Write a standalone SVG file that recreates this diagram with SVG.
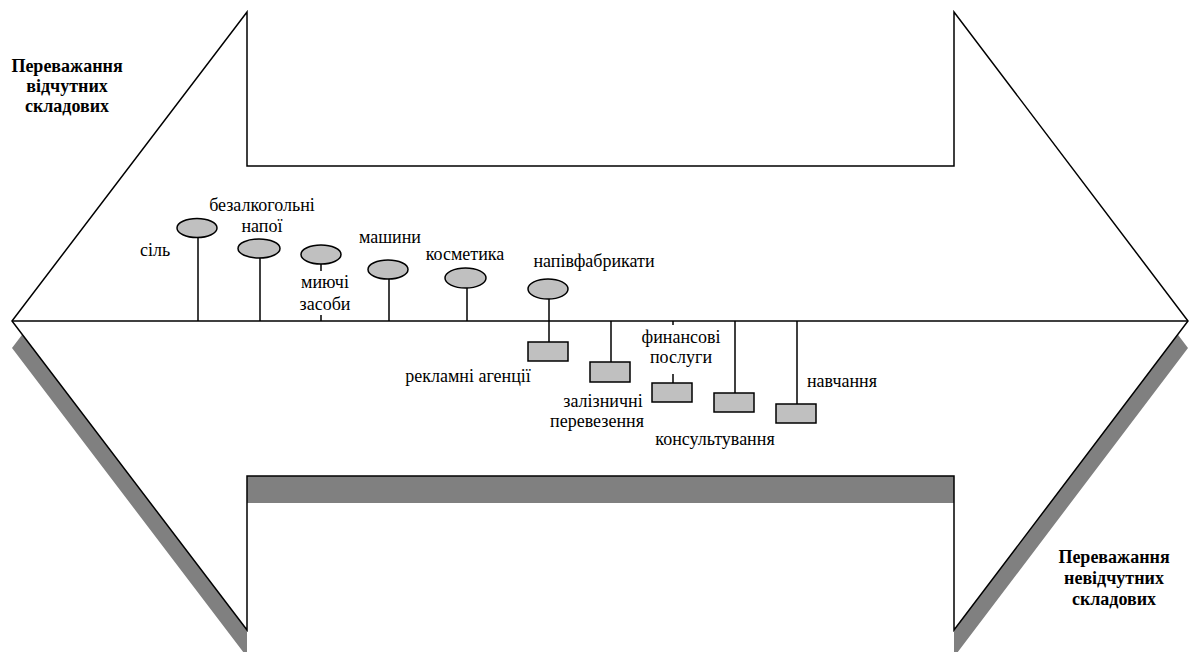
<svg xmlns="http://www.w3.org/2000/svg" width="1192" height="652" viewBox="0 0 1192 652">
  <style>
    .lbl { font-family: "Liberation Serif", "Times New Roman", serif; font-size: 18px; fill: #000; text-anchor: middle; }
    .bold { font-weight: bold; }
    .outline { fill: #fff; stroke: #000; stroke-width: 1.5; stroke-linejoin: miter; }
    .shadow { fill: #808080; stroke: none; }
    .stem { stroke: #000; stroke-width: 1.5; fill: none; }
    .good { fill: #c0c0c0; stroke: #000; stroke-width: 1.5; }
  </style>
  <defs>
    <path id="arrowShape" d="M12,321 L247,12 L247,166 L954,166 L954,12 L1188,321 L954,630 L954,476 L247,476 L247,630 Z"/>
  </defs>
  <rect width="1192" height="652" fill="#fff"/>

  <!-- Double-headed arrow with drop shadow -->
  <g id="arrow">
    <use href="#arrowShape" class="shadow" transform="translate(0,27)"/>
    <use href="#arrowShape" class="outline"/>
  </g>

  <!-- Axis and stems -->
  <g id="connectors">
    <line class="stem" x1="12" y1="321" x2="1188" y2="321"/>
    <line class="stem" x1="198" y1="237" x2="198" y2="321"/>
    <line class="stem" x1="260" y1="258" x2="260" y2="321"/>
    <line class="stem" x1="321" y1="264" x2="321" y2="271"/>
    <line class="stem" x1="321" y1="315" x2="321" y2="321"/>
    <line class="stem" x1="389" y1="279" x2="389" y2="321"/>
    <line class="stem" x1="467" y1="288" x2="467" y2="321"/>
    <line class="stem" x1="549" y1="299" x2="549" y2="342"/>
    <line class="stem" x1="611" y1="321" x2="611" y2="362"/>
    <line class="stem" x1="673" y1="321" x2="673" y2="325"/>
    <line class="stem" x1="673" y1="374" x2="673" y2="383"/>
    <line class="stem" x1="735" y1="321" x2="735" y2="393"/>
    <line class="stem" x1="797" y1="321" x2="797" y2="404"/>
  </g>

  <!-- Side captions -->
  <g id="caption-tangible">
    <text class="lbl bold" x="67" y="72">Переважання</text>
    <text class="lbl bold" x="67" y="92">відчутних</text>
    <text class="lbl bold" x="67" y="112">складових</text>
  </g>
  <g id="caption-intangible">
    <text class="lbl bold" x="1114" y="563">Переважання</text>
    <text class="lbl bold" x="1114" y="584">невідчутних</text>
    <text class="lbl bold" x="1114" y="605">складових</text>
  </g>

  <!-- Goods (ellipses above the axis) -->
  <g id="salt">
    <ellipse class="good" cx="197" cy="228" rx="20" ry="9.5"/>
    <text class="lbl" x="155" y="256">сіль</text>
  </g>
  <g id="soft-drinks">
    <ellipse class="good" cx="259" cy="248.5" rx="21" ry="9.5"/>
    <text class="lbl" x="262" y="211">безалкогольні</text>
    <text class="lbl" x="262" y="232">напої</text>
  </g>
  <g id="detergents">
    <ellipse class="good" cx="321" cy="254.5" rx="20" ry="9.5"/>
    <text class="lbl" x="325" y="288">миючі</text>
    <text class="lbl" x="325" y="310">засоби</text>
  </g>
  <g id="machines">
    <ellipse class="good" cx="388" cy="269.5" rx="20" ry="9.5"/>
    <text class="lbl" x="390" y="243">машини</text>
  </g>
  <g id="cosmetics">
    <ellipse class="good" cx="465.5" cy="278" rx="20.5" ry="10"/>
    <text class="lbl" x="465" y="260">косметика</text>
  </g>
  <g id="semi-finished">
    <ellipse class="good" cx="548" cy="289" rx="20" ry="10"/>
    <text class="lbl" x="594" y="267">напівфабрикати</text>
  </g>

  <!-- Services (rectangles below the axis) -->
  <g id="advertising">
    <rect class="good" x="528" y="342" width="40" height="19"/>
    <text class="lbl" x="468" y="382">рекламні агенції</text>
  </g>
  <g id="railway">
    <rect class="good" x="590" y="362" width="40" height="20"/>
    <text class="lbl" x="603" y="407">залізничні</text>
    <text class="lbl" x="597" y="427">перевезення</text>
  </g>
  <g id="financial">
    <rect class="good" x="652" y="383" width="40" height="19"/>
    <text class="lbl" x="681" y="343">финансові</text>
    <text class="lbl" x="681" y="363">послуги</text>
  </g>
  <g id="consulting">
    <rect class="good" x="714" y="393" width="40" height="19"/>
    <text class="lbl" x="715" y="445">консультування</text>
  </g>
  <g id="training">
    <rect class="good" x="776" y="404" width="40" height="19"/>
    <text class="lbl" x="842" y="387">навчання</text>
  </g>
</svg>
